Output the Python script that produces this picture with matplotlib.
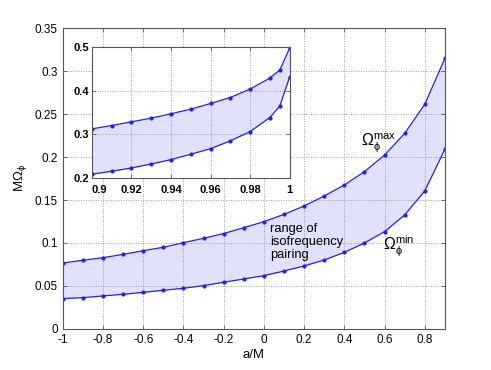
import matplotlib

matplotlib.use("Agg")
import matplotlib.pyplot as plt

plt.rcParams["font.family"] = ["Liberation Sans", "DejaVu Sans"]
plt.rcParams["mathtext.fontset"] = "custom"
plt.rcParams["mathtext.rm"] = "Liberation Sans"
plt.rcParams["mathtext.it"] = "Liberation Sans"

# main panel: spin a/M and orbital frequency bounds
spin = [-1.0, -0.9, -0.8, -0.7, -0.6, -0.5, -0.4, -0.3, -0.2, -0.1,
        0.0, 0.1, 0.2, 0.3, 0.4, 0.5, 0.6, 0.7, 0.8, 0.9]
omega_max = [0.0767, 0.0799, 0.0829, 0.0868, 0.0910, 0.0950, 0.1004, 0.1054, 0.1110, 0.1178,
             0.1248, 0.1333, 0.1430, 0.1547, 0.1674, 0.1830, 0.2023, 0.2275, 0.2613, 0.3147]
omega_min = [0.0353, 0.0364, 0.0384, 0.0403, 0.0426, 0.0450, 0.0473, 0.0504, 0.0543, 0.0581,
             0.0620, 0.0674, 0.0733, 0.0802, 0.0891, 0.1000, 0.1132, 0.1326, 0.1605, 0.2090]

# inset: near-extremal spins
spin_zoom = [0.90, 0.91, 0.92, 0.93, 0.94, 0.95, 0.96, 0.97, 0.98, 0.99, 0.995, 1.0]
omega_max_zoom = [0.3122, 0.3200, 0.3284, 0.3370, 0.3469, 0.3577, 0.3707, 0.3845,
                  0.4039, 0.4293, 0.4478, 0.4986]
omega_min_zoom = [0.2077, 0.2146, 0.2222, 0.2314, 0.2414, 0.2538, 0.2667, 0.2845,
                  0.3060, 0.3384, 0.3647, 0.4323]

LINE = "#1f1fff"
FILL = "#e1e1fb"
SPINE = "#555555"


def style_axis(axis):
    for spine in axis.spines.values():
        spine.set_color(SPINE)
        spine.set_linewidth(0.8)
    axis.tick_params(direction="in", top=True, right=True, length=3,
                     color=SPINE, width=0.6, labelsize=8.5)
    axis.grid(True, linestyle=(0, (1, 2)), color="#808080", linewidth=0.6)


def draw_band(axis, xs, lo, hi):
    axis.fill_between(xs, lo, hi, color=FILL, linewidth=0)
    axis.plot(xs, hi, color=LINE, marker="o", markersize=2.0, linewidth=0.9)
    axis.plot(xs, lo, color=LINE, marker="o", markersize=2.0, linewidth=0.9)


fig = plt.figure(figsize=(4.91, 3.70), dpi=100)
ax = fig.add_axes([0.128, 0.111, 0.778, 0.813])
draw_band(ax, spin, omega_min, omega_max)
ax.set_xlim(-1, 0.9)
ax.set_ylim(0, 0.35)
ax.set_xticks([-1, -0.8, -0.6, -0.4, -0.2, 0, 0.2, 0.4, 0.6, 0.8])
ax.set_xticklabels(["-1", "-0.8", "-0.6", "-0.4", "-0.2", "0", "0.2", "0.4", "0.6", "0.8"])
ax.set_yticks([0, 0.05, 0.1, 0.15, 0.2, 0.25, 0.3, 0.35])
ax.set_yticklabels(["0", "0.05", "0.1", "0.15", "0.2", "0.25", "0.3", "0.35"])
style_axis(ax)
ax.set_xlabel("a/M", fontsize=9.5, labelpad=2)
ax.set_ylabel(r"M$\Omega_\phi$", fontsize=9.5, labelpad=4)

ax.text(0.482, 0.213, r"$\Omega_\phi^{\rm max}$", fontsize=11.5)
ax.text(0.592, 0.091, r"$\Omega_\phi^{\rm min}$", fontsize=11.5)
ax.text(0.03, 0.101, "range of\nisofrequency\npairing", fontsize=9.3,
        va="center", ha="left", linespacing=1.1)

ins = fig.add_axes([0.187, 0.520, 0.403, 0.352])
draw_band(ins, spin_zoom, omega_min_zoom, omega_max_zoom)
ins.set_xlim(0.9, 1.0)
ins.set_ylim(0.2, 0.5)
ins.set_xticks([0.9, 0.92, 0.94, 0.96, 0.98, 1.0])
ins.set_xticklabels(["0.9", "0.92", "0.94", "0.96", "0.98", "1"])
ins.set_yticks([0.2, 0.3, 0.4, 0.5])
ins.set_yticklabels(["0.2", "0.3", "0.4", "0.5"])
style_axis(ins)
ins.tick_params(labelsize=8, pad=2)
ins.tick_params(axis="x", pad=5)
ins.get_xticklabels()[0].set_horizontalalignment("left")
for label in ins.get_xticklabels() + ins.get_yticklabels():
    label.set_fontweight("bold")

fig.savefig("out.png", dpi=100)
